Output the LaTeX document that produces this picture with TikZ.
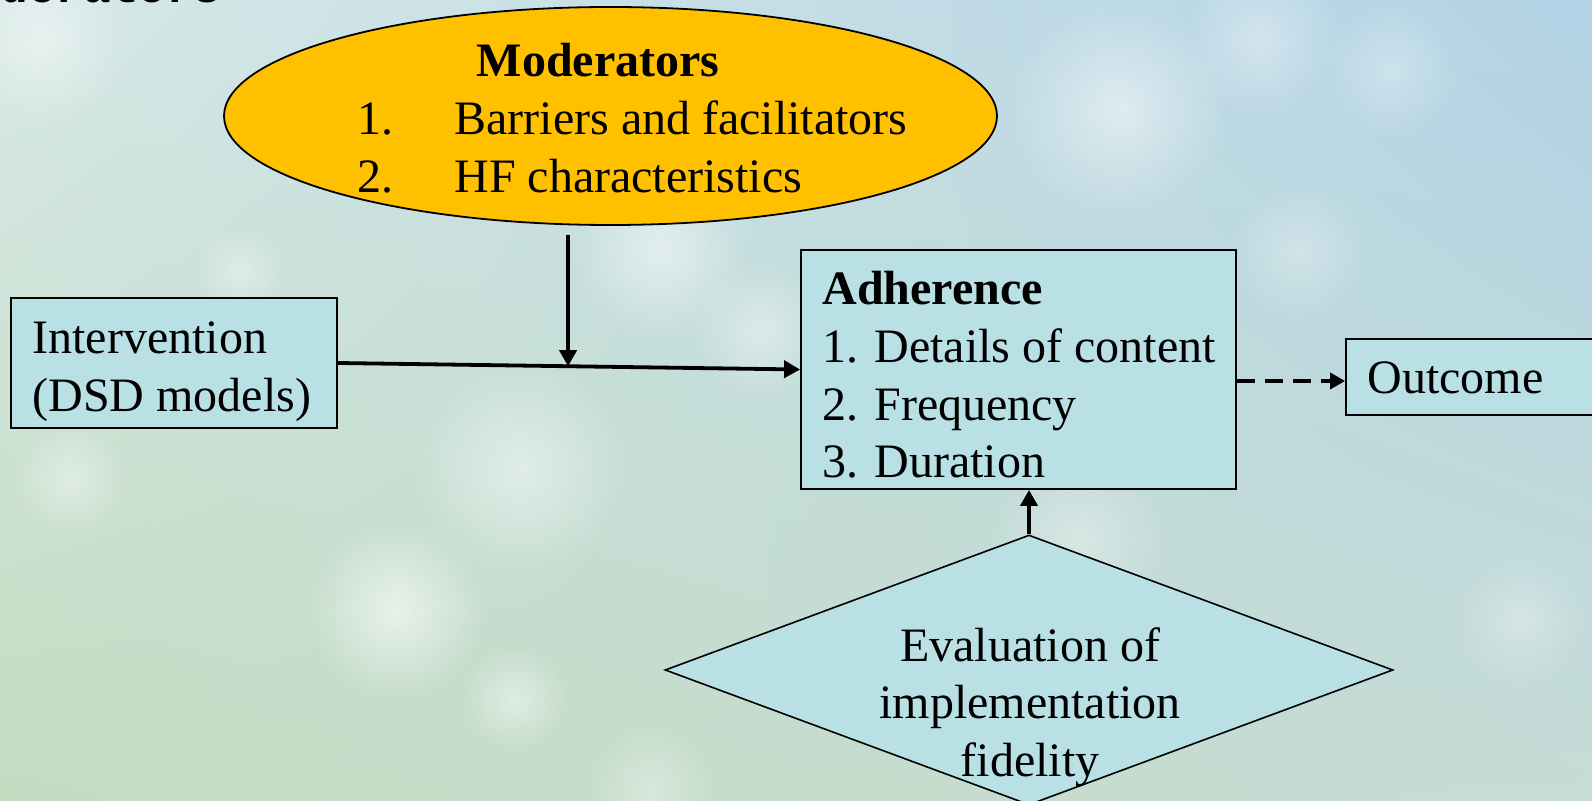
\documentclass[tikz,border=0pt]{standalone}
\usepackage{fontspec}
\setmainfont{Liberation Serif}
\newfontfamily\monofnt{Liberation Mono}
\usetikzlibrary{arrows.meta,shapes.geometric,fadings,calc,shadings}
\tikzfading[name=softspot, inner color=transparent!0, outer color=transparent!100]
\definecolor{boxfill}{HTML}{B9E0E4}
\definecolor{goldfill}{HTML}{FFC000}
\definecolor{bgul}{HTML}{D6E8E6}
\definecolor{bgur}{HTML}{B2D3E6}
\definecolor{bgll}{HTML}{C3DCC0}
\definecolor{bglr}{HTML}{C6DCD6}
\begin{document}
\begin{tikzpicture}[x=0.5pt,y=-0.5pt,
  box/.style={draw=black, line width=0.9pt, fill=boxfill, rectangle, inner sep=0pt},
  txt/.style={anchor=base west, inner sep=0pt, font=\fontsize{24}{29}\selectfont},
  ctxt/.style={anchor=base, inner sep=0pt, font=\fontsize{24}{29}\selectfont},
  arr/.style={line width=1.9pt, -{Triangle[length=8pt,width=8.5pt]}},
  darr/.style={line width=1.9pt, dash pattern=on 9pt off 5pt, -{Triangle[length=7.5pt,width=8pt]}},
  bokeh/.style={fill=white, path fading=softspot}]
\useasboundingbox (0,0) rectangle (1592,801);
\begin{scope}
\clip (0,0) rectangle (1592,801);
\shade[upper left=bgul, upper right=bgur, lower left=bgll, lower right=bglr] (0,0) rectangle (1592,801);
% soft bokeh spots
\fill[bokeh, fill opacity=0.45] (40,40) circle (90);
\fill[bokeh, fill opacity=0.35] (240,270) circle (45);
\fill[bokeh, fill opacity=0.5] (660,250) circle (90);
\fill[bokeh, fill opacity=0.4] (760,330) circle (70);
\fill[bokeh, fill opacity=0.5] (1120,110) circle (110);
\fill[bokeh, fill opacity=0.35] (1260,40) circle (80);
\fill[bokeh, fill opacity=0.3] (1390,70) circle (70);
\fill[bokeh, fill opacity=0.6] (396,610) circle (90);
\fill[bokeh, fill opacity=0.45] (514,700) circle (55);
\fill[bokeh, fill opacity=0.4] (70,480) circle (60);
\fill[bokeh, fill opacity=0.45] (520,470) circle (110);
\fill[bokeh, fill opacity=0.35] (1080,540) circle (90);
\fill[bokeh, fill opacity=0.3] (1520,620) circle (70);
\fill[bokeh, fill opacity=0.35] (650,790) circle (70);
\fill[bokeh, fill opacity=0.3] (1300,250) circle (70);
\node[anchor=base east, inner sep=0pt, font=\monofnt\bfseries\fontsize{23}{28}\selectfont] (cut) at (222,3) {derators};
\node[box, minimum width=137pt, minimum height=38pt] (out) at (1483,377) {};
\end{scope}

% moderators ellipse
\node[ellipse, draw=black, line width=0.9pt, fill=goldfill, inner sep=0pt,
      minimum width=386.5pt, minimum height=109pt] (ell) at (610.5,116) {};
\node[ctxt, font=\bfseries\fontsize{24}{29}\selectfont] (modt) at (598,77) {Moderators};
\node[txt] (m1n) at (357,135) {1.};
\node[txt] (m1t) at (454,135) {Barriers and facilitators};
\node[txt] (m2n) at (357,193) {2.};
\node[txt] (m2t) at (454,193) {HF characteristics};

% intervention
\node[box, minimum width=163pt, minimum height=65pt] (int) at (174,363) {};
\node[txt] (int1) at (32,354) {Intervention};
\node[txt] (int2) at (32,412) {(DSD models)};

% adherence
\node[box, minimum width=217.5pt, minimum height=119.5pt] (adh) at (1018.5,369.5) {};
\node[txt, font=\bfseries\fontsize{24}{29}\selectfont] (adh0) at (822,305) {Adherence};
\node[txt] (adh1) at (822,363) {1. Details of content};
\node[txt] (adh2) at (822,421) {2. Frequency};
\node[txt] (adh3) at (822,478) {3. Duration};

% outcome text
\node[txt] (outt) at (1367,394) {Outcome};

% evaluation diamond
\node[diamond, draw=black, line width=0.8pt, fill=boxfill, inner sep=0pt,
      minimum width=364pt, minimum height=135pt] (eval) at (1029,670) {};
\node[ctxt] (ev1) at (1030,662) {Evaluation of};
\node[ctxt] (ev2) at (1030,719) {implementation};
\node[ctxt] (ev3) at (1030,777) {fidelity};

% connectors
\draw[arr] (int.east) -- (adh.west);
\coordinate (mtop) at (568,235);
\coordinate (mbot) at ($(int.east)!0.498!(adh.west)$);
\draw[arr] (mtop) -- (mbot);
\draw[darr] ([yshift=-2pt]adh.east |- out.west) -- ([yshift=-2pt]out.west);
\draw[arr] (eval.north) -- (eval.north |- adh.south);
\end{tikzpicture}
\end{document}
